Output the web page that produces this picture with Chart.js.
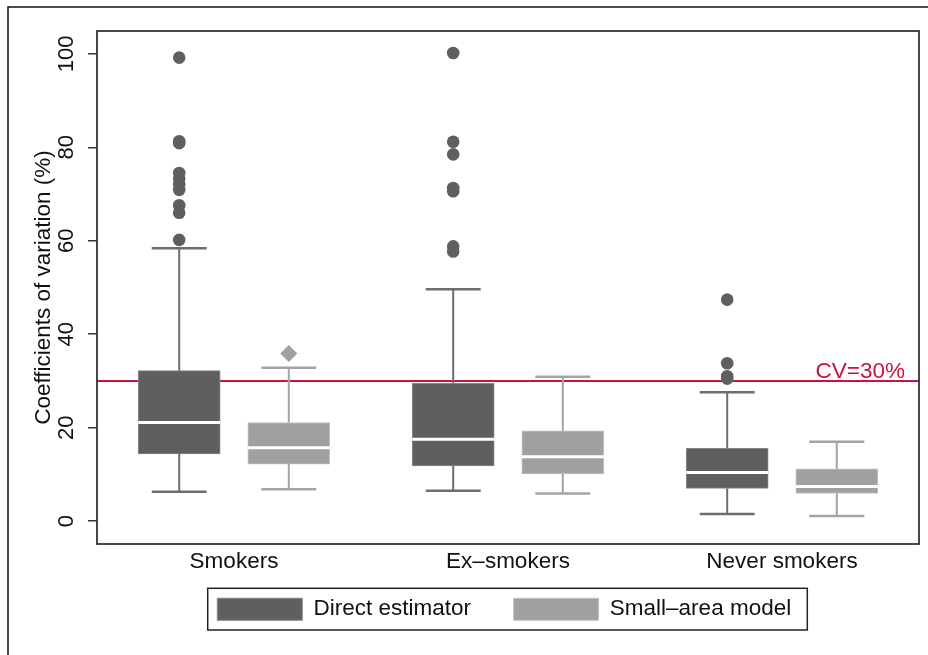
<!DOCTYPE html>
<html>
<head>
<meta charset="utf-8">
<script src="https://cdn.jsdelivr.net/npm/chart.js@4"></script>
<style>html,body{margin:0;padding:0;background:#fff}canvas{display:block}</style>
</head>
<body>
<canvas id="c" width="928" height="655"></canvas>
<script>
// ---------------- data ----------------
const CATEGORIES = ['Smokers', 'Ex–smokers', 'Never smokers'];
const SERIES = ['Direct estimator', 'Small–area model'];

const DIRECT_LOW  = [6.3, 6.5, 1.5];
const DIRECT_Q1   = [14.4, 11.8, 7.0];
const DIRECT_MED  = [21.1, 17.5, 10.4];
const DIRECT_Q3   = [32.2, 29.5, 15.6];
const DIRECT_HIGH = [58.4, 49.6, 27.6];
const DIRECT_OUTLIERS = [
  [99.2, 81.3, 80.9, 74.5, 73.3, 72.1, 70.9, 67.6, 66.0, 60.2],
  [100.2, 81.2, 78.5, 71.3, 70.6, 58.8, 57.7],
  [47.4, 33.8, 31.0, 30.5]
];

const SMALL_LOW  = [6.8, 5.9, 1.1];
const SMALL_Q1   = [12.2, 10.1, 5.9];
const SMALL_MED  = [15.7, 13.8, 7.4];
const SMALL_Q3   = [21.1, 19.3, 11.2];
const SMALL_HIGH = [32.8, 30.9, 17.0];
const SMALL_OUTLIERS = [[35.9], [], []];

const CV_THRESHOLD = 30;
const CV_LABEL = 'CV=30%';
const Y_TICKS = [0, 20, 40, 60, 80, 100];
const Y_TITLE = 'Coefficients of variation (%)';

// ---------------- styling ----------------
const FONT = "'Liberation Sans', Arial, Helvetica, sans-serif";
const DARK = '#5e5f5f', LIGHT = '#a0a0a0';
const DARK_WHISKER = '#6e6e6e', LIGHT_WHISKER = '#a4a4a4';
const RED = '#c8143c';
const GROUP_OFFSET = 0.2;   // series offset from category centre, in category units
const BOX_WIDTH = 82;
const LEGEND_H = 81;

const STATS = [
  {low: DIRECT_LOW, med: DIRECT_MED, q1: DIRECT_Q1, q3: DIRECT_Q3, high: DIRECT_HIGH, whisker: DARK_WHISKER},
  {low: SMALL_LOW, med: SMALL_MED, q1: SMALL_Q1, q3: SMALL_Q3, high: SMALL_HIGH, whisker: LIGHT_WHISKER}
];

const xPos = (i, side) => i + 0.5 + side * GROUP_OFFSET;

function boxData(q1, q3, side) {
  return CATEGORIES.map((_, i) => ({x: xPos(i, side), y: [q1[i], q3[i]]}));
}
function outlierPoints(list, side) {
  const pts = [];
  list.forEach((vals, i) => vals.forEach(v => pts.push({x: xPos(i, side), y: v})));
  return pts;
}

const extras = {
  id: 'extras',
  beforeLayout(chart) {
    const lg = chart.legend;
    if (lg && !lg.__patched) {
      const f = lg.fit;
      lg.fit = function () { f.call(this); this.height = LEGEND_H; };
      lg.__patched = true;
    }
  },
  afterLayout(chart) {
    const lg = chart.legend;
    const pad = lg.options.labels.padding;
    lg.left = 217.3 - pad;
    lg.right = chart.width;
    lg.top = 598 - pad;
    lg.bottom = lg.top + LEGEND_H;
  },
  beforeDraw(chart) {
    const ctx = chart.ctx;
    ctx.save();
    ctx.fillStyle = '#fff';
    ctx.fillRect(0, 0, chart.width, chart.height);
    ctx.strokeStyle = '#111';
    ctx.lineWidth = 1.5;
    ctx.strokeRect(8, 7, chart.width + 20, chart.height + 20);
    ctx.restore();
  },
  afterDatasetsDraw(chart) {
    const ctx = chart.ctx;
    const y = chart.scales.y;
    ctx.save();
    STATS.forEach((st, d) => {
      const meta = chart.getDatasetMeta(d);
      meta.data.forEach((bar, i) => {
        const cx = bar.x, w = bar.width, cap = w * 0.335;
        ctx.strokeStyle = st.whisker;
        ctx.lineWidth = 2;
        ctx.beginPath();
        ctx.moveTo(cx, y.getPixelForValue(st.q3[i]));
        ctx.lineTo(cx, y.getPixelForValue(st.high[i]));
        ctx.moveTo(cx, y.getPixelForValue(st.q1[i]));
        ctx.lineTo(cx, y.getPixelForValue(st.low[i]));
        ctx.stroke();
        ctx.lineWidth = 2.5;
        ctx.beginPath();
        ctx.moveTo(cx - cap, y.getPixelForValue(st.high[i]));
        ctx.lineTo(cx + cap, y.getPixelForValue(st.high[i]));
        ctx.moveTo(cx - cap, y.getPixelForValue(st.low[i]));
        ctx.lineTo(cx + cap, y.getPixelForValue(st.low[i]));
        ctx.stroke();
        ctx.strokeStyle = '#fff';
        ctx.lineWidth = 3;
        ctx.beginPath();
        ctx.moveTo(cx - w / 2, y.getPixelForValue(st.med[i]));
        ctx.lineTo(cx + w / 2, y.getPixelForValue(st.med[i]));
        ctx.stroke();
      });
    });
    const a = chart.chartArea;
    ctx.fillStyle = RED;
    ctx.font = '22.5px ' + FONT;
    ctx.textAlign = 'right';
    ctx.textBaseline = 'alphabetic';
    ctx.fillText(CV_LABEL, a.right - 14, y.getPixelForValue(CV_THRESHOLD) - 2.7);
    ctx.restore();
  },
  afterDraw(chart) {
    const ctx = chart.ctx, a = chart.chartArea;
    ctx.save();
    ctx.strokeStyle = '#333';
    ctx.lineWidth = 1.8;
    ctx.strokeRect(a.left, a.top, a.right - a.left, a.bottom - a.top);
    const lg = chart.legend;
    const pad = lg.options.labels.padding;
    const sx = lg.left + pad, sy = lg.top + pad;
    ctx.strokeStyle = '#222';
    ctx.lineWidth = 1.5;
    ctx.strokeRect(sx - 9.6, sy - 9.7, 599.6, 41.7);
    ctx.restore();
  }
};

new Chart(document.getElementById('c'), {
  type: 'bar',
  data: {
    labels: CATEGORIES,
    datasets: [
      {
        label: SERIES[0],
        data: boxData(DIRECT_Q1, DIRECT_Q3, -1),
        backgroundColor: DARK, borderColor: '#868686', borderWidth: 1, borderSkipped: false,
        grouped: false, barThickness: BOX_WIDTH,
        xAxisID: 'x2', yAxisID: 'y', order: 1
      },
      {
        label: SERIES[1],
        data: boxData(SMALL_Q1, SMALL_Q3, 1),
        backgroundColor: LIGHT, borderColor: '#c2c2c2', borderWidth: 1, borderSkipped: false,
        grouped: false, barThickness: BOX_WIDTH,
        xAxisID: 'x2', yAxisID: 'y', order: 1
      },
      {
        type: 'scatter',
        label: SERIES[0] + ' outliers',
        data: outlierPoints(DIRECT_OUTLIERS, -1),
        pointStyle: 'circle', pointRadius: 6.3, backgroundColor: DARK, borderColor: DARK, borderWidth: 0,
        xAxisID: 'x2', yAxisID: 'y', order: 2
      },
      {
        type: 'scatter',
        label: SERIES[1] + ' outliers',
        data: outlierPoints(SMALL_OUTLIERS, 1),
        pointStyle: 'rectRot', pointRadius: 8.5, backgroundColor: LIGHT, borderColor: LIGHT, borderWidth: 0,
        xAxisID: 'x2', yAxisID: 'y', order: 2
      },
      {
        type: 'line',
        label: CV_LABEL,
        data: [{x: 0, y: CV_THRESHOLD}, {x: CATEGORIES.length, y: CV_THRESHOLD}],
        borderColor: RED, borderWidth: 2, pointRadius: 0, fill: false,
        xAxisID: 'x2', yAxisID: 'y', order: 10
      }
    ]
  },
  options: {
    responsive: false,
    animation: false,
    events: [],
    layout: {padding: {left: 8, right: 9, top: 31, bottom: 0}},
    scales: {
      x: {
        type: 'category', offset: true, labels: CATEGORIES,
        min: CATEGORIES[0], max: CATEGORIES[CATEGORIES.length - 1],
        grid: {display: false, drawTicks: false},
        border: {display: false},
        ticks: {font: {family: FONT, size: 22.5}, color: '#111', padding: 4},
        afterFit: s => { s.height = 30; }
      },
      x2: {type: 'linear', display: false, min: 0, max: CATEGORIES.length, offset: false},
      y: {
        type: 'linear', min: -4.9, max: 104.9, stacked: false,
        afterBuildTicks: s => { s.ticks = Y_TICKS.map(v => ({value: v})); },
        ticks: {minRotation: 90, maxRotation: 90, crossAlign: 'center', padding: 3,
                font: {family: FONT, size: 22}, color: '#111'},
        grid: {drawOnChartArea: false, tickLength: 9, color: '#333', lineWidth: 1.5},
        border: {display: false},
        title: {display: true, text: Y_TITLE, font: {family: FONT, size: 22.5}, color: '#111',
                padding: {top: 22.5, bottom: 0}},
        afterFit: s => { s.width = 89; }
      }
    },
    plugins: {
      tooltip: {enabled: false},
      legend: {
        position: 'bottom', align: 'start',
        labels: {
          font: {family: FONT, size: 22.5}, color: '#111',
          boxWidth: 85, boxHeight: 22, padding: 42.5,
          filter: item => item.datasetIndex < 2
        }
      }
    }
  },
  plugins: [extras]
});
</script>
</body>
</html>
